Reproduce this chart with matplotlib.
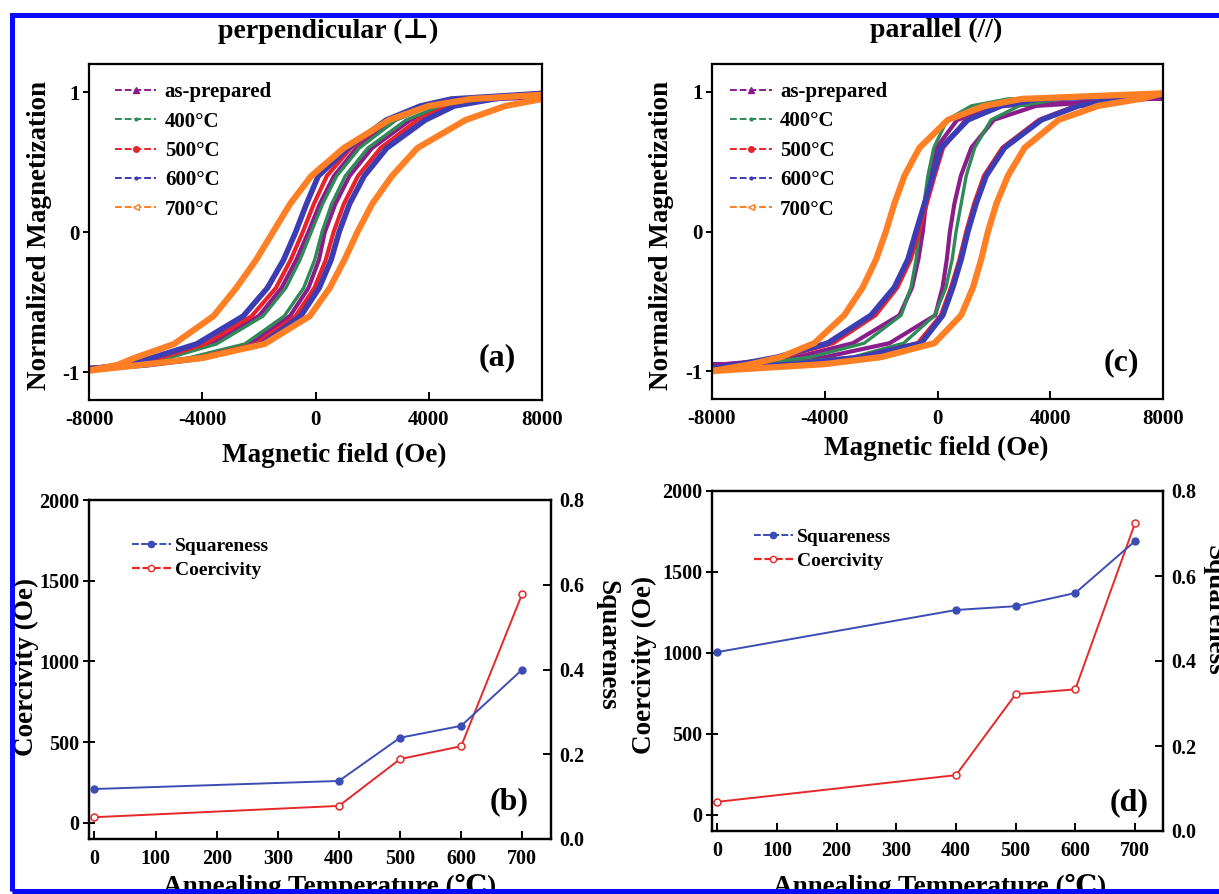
import matplotlib
matplotlib.use("Agg")
import matplotlib.pyplot as plt
from matplotlib.lines import Line2D
from matplotlib.patches import Rectangle

plt.rcParams['font.family'] = ['Liberation Serif', 'DejaVu Serif', 'DejaVu Sans', 'Noto Sans CJK SC']
plt.rcParams['font.weight'] = 'bold'
plt.rcParams['axes.linewidth'] = 1.6
plt.rcParams['axes.unicode_minus'] = False

W, H = 1219, 894

m_levels = [-0.95, -0.9, -0.8, -0.6, -0.4, -0.2, 0.0, 0.2, 0.4, 0.6, 0.8, 0.9, 0.95]
labels = ['as-prepared', '400°C', '500°C', '600°C', '700°C']

# perpendicular (a): upper (decreasing field) and lower (increasing field) branches
perp_up = [
    [-6600, -5350, -3700, -2000, -1200, -680, -250, 150, 650, 1450, 2800, 4000, 5300],
    [-6500, -5200, -3500, -1850, -1050, -550, -150, 250, 750, 1550, 2850, 4000, 5300],
    [-6700, -5500, -3900, -2250, -1400, -880, -450, -60, 400, 1250, 2550, 3750, 5000],
    [-6900, -5800, -4200, -2550, -1700, -1130, -700, -320, 100, 1150, 2500, 3700, 4800],
    [-7000, -6400, -5000, -3600, -2800, -2100, -1500, -900, -150, 1000, 2600, 4000, 5500],
]
perp_dn = [
    [-6200, -4350, -2300, -900, -250, 120, 330, 700, 1200, 2000, 3350, 4550, 6000],
    [-6300, -4500, -2500, -1100, -420, -30, 230, 570, 1050, 1850, 3200, 4400, 5800],
    [-6100, -4200, -2100, -700, -40, 360, 640, 1000, 1500, 2300, 3600, 4700, 6000],
    [-6000, -4000, -1900, -520, 130, 550, 835, 1200, 1720, 2520, 3880, 4900, 6300],
    [-6200, -4000, -1800, -200, 500, 1020, 1480, 2000, 2700, 3600, 5300, 6700, 8000],
]
# magnetization at -8000 and +8000 Oe
perp_sat = [(-0.97, 0.96), (-0.97, 0.97), (-0.98, 0.98), (-0.98, 0.99), (-0.99, 0.98)]

# parallel (c)
par_up = [
    [-7500, -5000, -3000, -1350, -900, -680, -520, -410, -290, -40, 700, 2300, 7500],
    [-6500, -4500, -2600, -1290, -940, -760, -640, -480, -340, -130, 340, 1200, 2500],
    [-6900, -5500, -3700, -2200, -1420, -950, -650, -380, -100, 200, 1000, 2150, 3500],
    [-7000, -5680, -3900, -2360, -1530, -1050, -760, -460, -170, 130, 1080, 2260, 3600],
    [-6600, -5560, -4370, -3310, -2650, -2180, -1830, -1530, -1170, -640, 370, 1670, 3000],
]
par_dn = [
    [-7500, -4000, -1700, -80, 180, 330, 440, 600, 830, 1200, 2000, 3500, 7500],
    [-5700, -3000, -1200, -100, 300, 520, 660, 840, 1020, 1320, 1900, 2900, 4400],
    [-5000, -2800, -700, 120, 480, 780, 1020, 1300, 1650, 2300, 3600, 4900, 6400],
    [-5000, -2710, -580, 190, 545, 840, 1080, 1370, 1730, 2380, 3690, 5000, 6500],
    [-4000, -2000, -110, 840, 1260, 1550, 1790, 2090, 2500, 3090, 4300, 5700, 7200],
]
par_sat = [(-0.95, 0.95), (-0.98, 0.98), (-0.98, 0.98), (-0.98, 0.98), (-1.0, 0.99)]

# annealing series
temps = [0, 400, 500, 600, 700]
perp_coer = [35, 105, 395, 475, 1420]
perp_sq = [0.118, 0.137, 0.239, 0.267, 0.400]
par_coer = [80, 245, 745, 775, 1800]
par_sq = [0.421, 0.520, 0.529, 0.560, 0.682]

loop_colors = ['#8B1C8B', '#2E8B57', '#E8232A', '#3C3CB4', '#FF7F24']
loop_markers = ['^', '.', 'o', '.', '<']
loop_widths = [3.0, 2.4, 3.0, 4.0, 4.5]
sq_color = '#3B4DB5'
coer_color = '#E62828'


def px_axes(fig, x0, y0, x1, y1):
    return fig.add_axes([x0 / W, 1 - y1 / H, (x1 - x0) / W, (y1 - y0) / H])


def ftext(fig, x, y, s, **kw):
    kw.setdefault('ha', 'center')
    kw.setdefault('va', 'center')
    fig.text(x / W, 1 - y / H, s, **kw)


def draw_loops(ax, ups, dns, sats, legend_xy):
    for i in range(len(labels)):
        lo, hi = sats[i]
        uh = [8000] + ups[i][::-1] + [-8000]
        um = [hi] + m_levels[::-1] + [lo]
        dh = [-8000] + dns[i] + [8000]
        dm = [lo] + m_levels + [hi]
        for hh, mm in ((uh, um), (dh, dm)):
            ax.plot(hh, mm, color=loop_colors[i], lw=loop_widths[i],
                    solid_joinstyle='round', solid_capstyle='round')
    ax.set_xlim(-8000, 8000)
    ax.set_ylim(-1.2, 1.2)
    ax.set_xticks([-8000, -4000, 0, 4000, 8000])
    ax.set_yticks([-1, 0, 1])
    ax.tick_params(axis='x', direction='in', length=6, width=1.4, labelsize=15, pad=7)
    ax.tick_params(axis='y', direction='out', length=4, width=1.4, labelsize=15, pad=3)
    handles = []
    for c, m in zip(loop_colors, loop_markers):
        mfc = 'white' if m == '<' else c
        handles.append(Line2D([0], [0], color=c, lw=1.4, ls=(0, (3.5, 1.5)),
                              marker=m, ms=4, mfc=mfc, mec=c))
    ax.legend(handles, labels, loc='upper left', bbox_to_anchor=legend_xy,
              frameon=False, fontsize=15, handlelength=2.0, handletextpad=0.4,
              labelspacing=0.45, borderpad=0, borderaxespad=0, numpoints=1)


def draw_anneal(ax, coer, sq, legend_xy):
    ax2 = ax.twinx()
    ax.plot(temps, coer, color=coer_color, lw=1.4, marker='o', ms=5,
            mfc='white', mec=coer_color, mew=1.1, zorder=3)
    ax2.plot(temps, sq, color=sq_color, lw=1.4, marker='o', ms=5,
             mfc=sq_color, mec=sq_color, zorder=3)
    ax.set_xlim(-9, 747)
    ax.set_ylim(-100, 2000)
    ax2.set_ylim(0, 0.8)
    ax.set_xticks(range(0, 701, 100))
    ax.set_yticks([0, 500, 1000, 1500, 2000])
    ax2.set_yticks([0.0, 0.2, 0.4, 0.6, 0.8])
    ax2.set_yticklabels(['0.0', '0.2', '0.4', '0.6', '0.8'])
    ax.tick_params(axis='x', direction='in', length=6, width=1.4, labelsize=14.5, pad=7)
    ax.tick_params(axis='y', direction='inout', length=8, width=1.4, labelsize=14.5, pad=3)
    ax2.tick_params(axis='y', direction='in', length=6, width=1.4, labelsize=14.5, pad=6)
    handles = [
        Line2D([0], [0], color=sq_color, lw=1.4, ls=(0, (3.5, 1.2)), marker='o',
               ms=4.5, mfc=sq_color, mec=sq_color),
        Line2D([0], [0], color=coer_color, lw=1.6, ls=(0, (3.5, 1.2)), marker='o',
               ms=4.5, mfc='white', mec=coer_color),
    ]
    ax.legend(handles, ['Squareness', 'Coercivity'], loc='upper left',
              bbox_to_anchor=legend_xy, frameon=False, fontsize=14,
              handlelength=2.0, handletextpad=0.2, labelspacing=0.33,
              borderpad=0, borderaxespad=0, numpoints=1)


fig = plt.figure(figsize=(W / 100, H / 100), dpi=100)

ax_a = px_axes(fig, 89, 64, 542, 400)
draw_loops(ax_a, perp_up, perp_dn, perp_sat, (0.057, 0.946))
ax_c = px_axes(fig, 712, 64, 1163, 399)
draw_loops(ax_c, par_up, par_dn, par_sat, (0.040, 0.946))

ax_b = px_axes(fig, 89, 500, 551, 839)
draw_anneal(ax_b, perp_coer, perp_sq, (0.093, 0.891))
ax_d = px_axes(fig, 712, 491, 1163, 831)
draw_anneal(ax_d, par_coer, par_sq, (0.093, 0.891))

ftext(fig, 328, 31, 'perpendicular (⊥)', fontsize=20)
ftext(fig, 936, 30, 'parallel (//)', fontsize=20)
ftext(fig, 40, 236, 'Normalized Magnetization', fontsize=19.5, rotation=90)
ftext(fig, 662, 235, 'Normalized Magnetization', fontsize=19.5, rotation=90)
ftext(fig, 334, 455, 'Magnetic field (Oe)', fontsize=19.5)
ftext(fig, 936, 448, 'Magnetic field (Oe)', fontsize=19.5)
ftext(fig, 26, 667, 'Coercivity (Oe)', fontsize=19.5, rotation=90)
ftext(fig, 644, 665, 'Coercivity (Oe)', fontsize=19.5, rotation=90)
ftext(fig, 607, 645, 'Squareness', fontsize=19.5, rotation=270)
# right-hand label of (d) runs off the right edge, as in the original
ftext(fig, 1214, 610, 'Squareness', fontsize=19.5, rotation=270)
ftext(fig, 330, 874, 'Annealing Temperature (℃)', fontsize=19.5, va='top')
ftext(fig, 940, 874, 'Annealing Temperature (℃)', fontsize=19.5, va='top')

ftext(fig, 497, 358, '(a)', fontsize=23)
ftext(fig, 1121, 363, '(c)', fontsize=23)
ftext(fig, 509, 802, '(b)', fontsize=23)
ftext(fig, 1129, 803, '(d)', fontsize=23)

fig.add_artist(Rectangle((11.5 / W, 1 - 891 / H), (1260 - 11.5) / W, (891 - 14.5) / H,
                         transform=fig.transFigure, fill=False, ec='#0a0aff',
                         lw=3.6, clip_on=False, zorder=10))

fig.savefig('out.png', dpi=100)
